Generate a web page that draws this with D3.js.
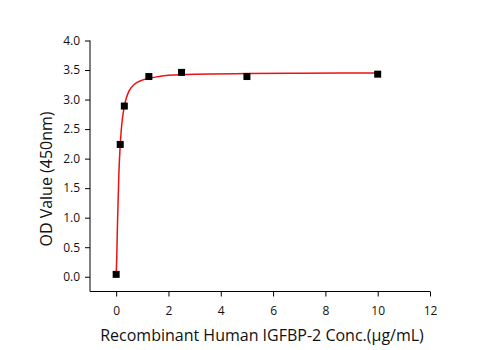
<!DOCTYPE html>
<html><head><meta charset="utf-8">
<script src="https://cdn.jsdelivr.net/npm/d3@7"></script>
<style>body{margin:0;background:#fff}svg{display:block}text{font-family:"Open Sans",sans-serif;fill:#111}</style>
</head><body><svg id="c" width="501" height="350"></svg>
<script>
const concX = [0, 0.156, 0.3125, 1.25, 2.5, 5, 10];
const odY = [0.04, 2.24, 2.89, 3.39, 3.46, 3.39, 3.43];
const fitX = [0, 0.02, 0.05, 0.1, 0.15, 0.2, 0.3, 0.4, 0.5, 0.7, 1.0, 1.5, 2, 3, 5, 7, 10];
const fitY = [0, 0.28, 0.88, 1.69, 2.19, 2.51, 2.86, 3.04, 3.15, 3.26, 3.33, 3.38, 3.41, 3.43, 3.44, 3.445, 3.45];
const xTicks = [0, 2, 4, 6, 8, 10, 12];
const yTicks = [0, 0.5, 1, 1.5, 2, 2.5, 3, 3.5, 4];
const xLabel = "Recombinant Human IGFBP-2 Conc.(μg/mL)";
const yLabel = "OD Value (450nm)";

const svg = d3.select("#c");
const x = d3.scaleLinear().domain([-1, 12]).range([90, 430]);
const y = d3.scaleLinear().domain([-0.25, 4]).range([291.5, 40.5]);

// minor ticks
const gx = svg.append("g").attr("transform", "translate(0,291.5)");
gx.call(d3.axisBottom(x).tickValues(d3.range(-1, 12.01, 1)).tickSize(3).tickFormat(""));
gx.call(d3.axisBottom(x).tickValues(xTicks).tickSize(5).tickPadding(10).tickFormat(d3.format("d")));
gx.selectAll("text").attr("font-size", 12).attr("font-family", "Open Sans");
gx.selectAll("path.domain").remove();
svg.append("line").attr("x1", x(-1)).attr("x2", x(12)).attr("y1", 291.5).attr("y2", 291.5).attr("stroke", "#000");

const gy = svg.append("g").attr("transform", "translate(90,0)");
gy.call(d3.axisLeft(y).tickValues(d3.range(-0.25, 4.01, 0.25)).tickSize(3).tickFormat(""));
gy.call(d3.axisLeft(y).tickValues(yTicks).tickSize(5).tickPadding(5).tickFormat(d3.format(".1f")));
gy.selectAll("text").attr("font-size", 12).attr("font-family", "Open Sans");
gy.selectAll("path.domain").remove();
svg.append("line").attr("x1", 90).attr("x2", 90).attr("y1", y(4)).attr("y2", y(-0.25)).attr("stroke", "#000");

// fit line
const line = d3.line().x(d => x(d[0])).y(d => y(d[1])).curve(d3.curveMonotoneX);
svg.append("path").datum(fitX.map((v, i) => [v, fitY[i]]))
  .attr("d", line).attr("fill", "none").attr("stroke", "#ee1111").attr("stroke-width", 1.5);

// points
svg.selectAll("rect.pt").data(concX.map((v, i) => [v, odY[i]])).enter().append("rect")
  .attr("class", "pt").attr("x", d => x(d[0]) - 3.5).attr("y", d => y(d[1]) - 3.5)
  .attr("width", 7).attr("height", 7).attr("fill", "#000");

svg.append("text").attr("x", 262).attr("y", 341).attr("text-anchor", "middle")
  .attr("font-size", 16).text(xLabel);
svg.append("text").attr("transform", "translate(52,179) rotate(-90)").attr("text-anchor", "middle")
  .attr("font-size", 16).text(yLabel);
</script></body></html>
